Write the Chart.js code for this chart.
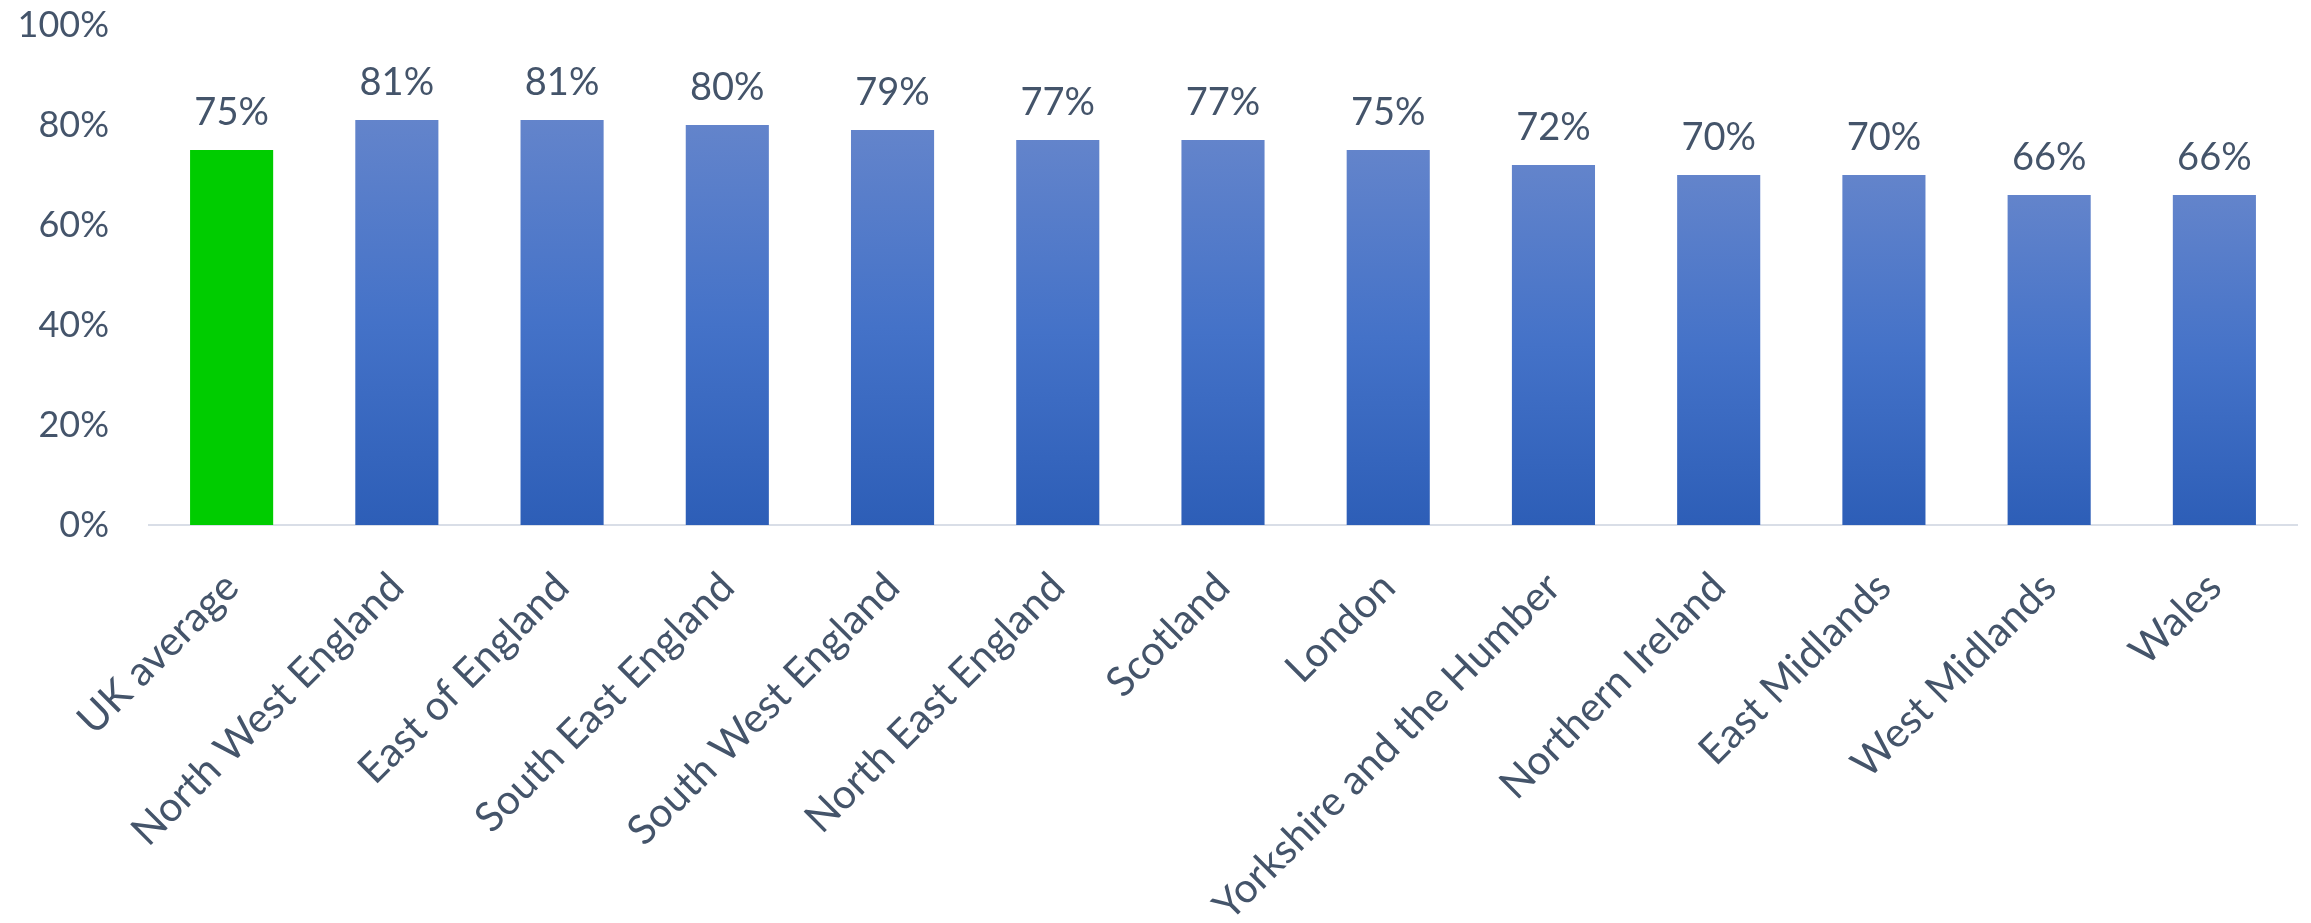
<!DOCTYPE html>
<html>
<head>
<meta charset="utf-8">
<title>Share by UK region</title>
<script src="https://cdn.jsdelivr.net/npm/chart.js@4/dist/chart.umd.min.js"></script>
<style>
  html, body { margin: 0; padding: 0; background: #ffffff; }
  #wrap { width: 2311px; height: 923px; }
</style>
</head>
<body>
<div id="wrap"><canvas id="chart" width="2311" height="923"></canvas></div>
<script>
// Regions and their percentages
const regions = [
  'UK average', 'North West England', 'East of England', 'South East England',
  'South West England', 'North East England', 'Scotland', 'London',
  'Yorkshire and the Humber', 'Northern Ireland', 'East Midlands',
  'West Midlands', 'Wales'
];
const shares = [75, 81, 81, 80, 79, 77, 77, 75, 72, 70, 70, 66, 66];
const yTicks = [0, 20, 40, 60, 80, 100];

const TEXT = '#44546A';
const TICK_FONT = { family: 'Lato', size: 36 };
const CAT_FONT = { family: 'Lato', size: 41 };
const VALUE_FONT = { family: 'Lato', size: 38 };

// Vertical blue gradient spanning each bar from its top to the baseline
function barFill(ctx) {
  const chart = ctx.chart;
  if (ctx.dataIndex === 0) return '#00CC00';
  const area = chart.chartArea;
  const ys = chart.scales.y;
  if (!area || !ys) return '#4472C4';
  const top = ys.getPixelForValue(ctx.raw);
  const base = ys.getPixelForValue(0);
  const g = chart.ctx.createLinearGradient(0, top, 0, base);
  g.addColorStop(0, '#6384CB');
  g.addColorStop(0.5, '#4472C8');
  g.addColorStop(1, '#2D5EB7');
  return g;
}

// Value labels above each bar
const valueLabels = {
  id: 'valueLabels',
  afterDatasetsDraw(chart) {
    const c = chart.ctx;
    const meta = chart.getDatasetMeta(0);
    c.save();
    c.font = `${VALUE_FONT.size}px ${VALUE_FONT.family}`;
    c.fillStyle = TEXT;
    c.textAlign = 'center';
    c.textBaseline = 'middle';
    meta.data.forEach((bar, i) => {
      c.fillText(shares[i] + '%', bar.x, bar.y - 37);
    });
    c.restore();
  }
};

new Chart(document.getElementById('chart'), {
  type: 'bar',
  data: {
    labels: regions,
    datasets: [{
      data: shares,
      backgroundColor: barFill,
      borderWidth: 0,
      categoryPercentage: 1,
      barPercentage: 0.503
    }]
  },
  options: {
    responsive: false,
    animation: false,
    devicePixelRatio: 1,
    layout: { padding: { top: 25, right: 14, bottom: 0, left: 0 } },
    plugins: { legend: { display: false }, tooltip: { enabled: false } },
    scales: {
      x: {
        grid: { display: false },
        border: { display: true, color: '#D9DEE7', width: 2 },
        ticks: {
          color: TEXT, font: CAT_FONT,
          maxRotation: 45, minRotation: 45, padding: 30, autoSkip: false
        },
        afterFit(scale) {
          scale.height = 398;
          scale.paddingLeft = 0;
          scale.paddingRight = 0;
        }
      },
      y: {
        min: 0, max: 100,
        grid: { display: false },
        border: { display: false },
        afterBuildTicks(scale) {
          scale.ticks = yTicks.map(v => ({ value: v }));
        },
        ticks: {
          color: TEXT, font: TICK_FONT, padding: 32,
          callback: v => v + '%'
        },
        afterFit(scale) {
          scale.width = 149;
          scale.paddingTop = 0;
          scale.paddingBottom = 0;
        }
      }
    }
  },
  plugins: [valueLabels]
});
</script>
</body>
</html>
